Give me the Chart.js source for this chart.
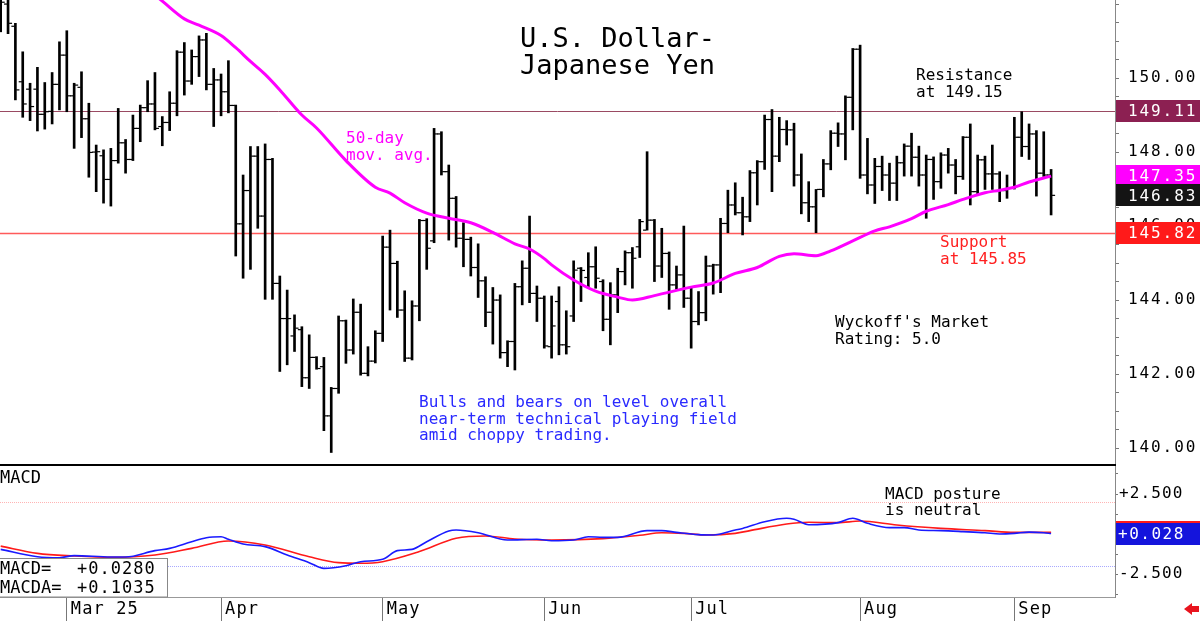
<!DOCTYPE html>
<html lang="en">
  <head>
    <meta charset="utf-8">
    <title>U.S. Dollar-Japanese Yen</title>
    <style>
      html, body { margin: 0; padding: 0; background: #fff; }
      #wrap { position: relative; width: 1200px; height: 621px; overflow: hidden; background: #fff; }
      .pane { position: absolute; left: 0; width: 1200px; }
    </style>
  </head>
  <body>
    <div id="wrap">
      <div class="pane" style="top:0;height:466px"><canvas id="price-chart"></canvas></div>
      <div class="pane" style="top:466px;height:155px"><canvas id="macd-chart"></canvas></div>
    </div>

    <script src="https://cdn.jsdelivr.net/npm/chart.js@4.4.1/dist/chart.umd.min.js"></script>
    <script>
    // daily bars, index 0 = first visible session (mid Feb 2025)
    const opens = [
      152.2, 152.0, 151.4, 149.9, 149.7, 149.7, 149.02, 149.1, 149.83, 150.62,
      149.52, 149.75, 148.9, 148.0, 147.9, 147.26, 147.77, 148.25, 147.8, 148.64,
      149.2, 149.3, 148.69, 148.8, 149.32, 150.7, 149.92, 150.58, 151.03, 149.83,
      149.95, 149.63, 149.26, 146.06, 146.96, 147.89, 146.27, 147.8, 144.45, 143.5,
      143.03, 143.2, 141.9, 142.45, 142.2, 140.87, 141.61, 143.44, 142.65, 143.67,
      142.02, 142.35, 143.1, 145.43, 144.99, 143.73, 142.43, 143.84, 146.15, 145.6,
      148.49, 147.47, 146.75, 145.67, 145.64, 144.88, 144.52, 143.67, 144.0, 142.58,
      142.88, 144.36, 144.86, 144.18, 144.05, 142.74, 143.96, 142.79, 143.57, 144.86,
      144.61, 144.9, 144.5, 143.48, 144.14, 144.77, 145.28, 145.44, 145.89, 146.16,
      144.92, 145.26, 144.41, 144.68, 144.05, 143.42, 143.66, 144.92, 144.95, 146.07,
      146.57, 146.36, 146.25, 147.44, 147.74, 148.88, 147.89, 148.61, 148.6, 147.38,
      146.63, 146.52, 146.99, 147.68, 148.51, 148.49, 149.48, 150.78, 147.38, 147.11,
      147.61, 147.38, 147.16, 147.71, 148.16, 147.86, 147.38, 147.8, 147.2, 147.92,
      147.65, 147.34, 148.4, 146.93, 147.79, 147.41, 147.41, 146.96, 147.02, 148.4,
      148.15, 148.49, 147.43, 147.38
    ];
    const highs = [
      152.4, 152.2, 151.48, 150.71, 149.86, 150.29, 149.88, 150.15, 150.98, 151.28,
      149.86, 150.17, 149.32, 148.19, 148.06, 148.1, 149.18, 148.34, 149.0, 149.27,
      149.93, 150.15, 148.96, 149.63, 150.74, 150.96, 150.76, 151.14, 151.21, 150.26,
      150.11, 150.47, 149.27, 147.38, 148.15, 148.15, 148.22, 147.83, 144.65, 144.27,
      143.6, 143.28, 143.06, 142.47, 142.45, 141.64, 143.57, 143.46, 144.03, 143.89,
      142.74, 143.17, 145.73, 145.89, 145.05, 144.25, 143.98, 146.18, 146.2, 148.64,
      148.55, 147.65, 146.8, 146.09, 145.7, 145.52, 144.63, 144.34, 144.14, 142.9,
      144.45, 145.06, 146.27, 144.38, 144.11, 144.11, 144.36, 143.71, 145.06, 144.88,
      145.28, 145.44, 144.55, 144.47, 144.86, 145.33, 145.42, 146.18, 148.01, 146.18,
      145.94, 145.3, 144.92, 146.0, 144.34, 144.23, 145.19, 144.97, 146.21, 146.97,
      147.17, 146.78, 147.5, 147.77, 149.0, 149.15, 148.94, 148.85, 148.78, 147.95,
      147.2, 146.99, 147.8, 148.58, 148.79, 149.52, 150.8, 150.89, 148.37, 147.83,
      147.89, 147.7, 147.89, 148.22, 148.51, 148.16, 147.92, 147.87, 147.98, 148.1,
      147.8, 148.42, 148.76, 147.92, 147.89, 148.19, 147.47, 147.38, 148.94, 149.09,
      148.76, 148.58, 148.55, 147.53
    ];
    const lows = [
      151.25, 151.2, 149.41, 148.94, 148.85, 148.57, 148.62, 148.76, 149.14, 149.09,
      148.1, 148.39, 147.32, 146.93, 146.62, 146.54, 147.7, 147.43, 147.77, 148.28,
      149.09, 148.6, 148.17, 148.58, 148.98, 149.54, 149.83, 150.04, 149.68, 148.69,
      148.98, 149.06, 145.19, 144.59, 144.83, 145.94, 144.02, 144.02, 142.07, 142.25,
      142.61, 141.66, 141.61, 142.13, 140.47, 139.88, 141.48, 142.29, 142.54, 141.97,
      141.95, 142.3, 142.88, 143.73, 143.53, 142.34, 142.38, 143.44, 144.83, 145.55,
      147.38, 145.62, 145.43, 144.9, 144.65, 144.07, 143.28, 142.81, 142.43, 142.2,
      142.11, 143.87, 143.93, 143.42, 142.7, 142.43, 142.52, 142.54, 143.42, 143.96,
      144.34, 144.32, 143.17, 142.79, 143.66, 144.41, 144.32, 145.15, 145.89, 144.5,
      144.61, 143.75, 144.29, 143.8, 142.7, 143.33, 143.44, 144.16, 144.2, 145.82,
      146.3, 145.76, 146.12, 146.57, 147.53, 146.93, 147.74, 148.19, 147.08, 146.33,
      146.12, 145.82, 146.79, 147.52, 148.15, 147.79, 148.6, 147.29, 146.87, 146.61,
      146.96, 146.69, 146.69, 147.35, 147.35, 147.08, 146.21, 146.72, 147.02, 147.43,
      146.87, 147.26, 146.57, 146.84, 146.99, 146.99, 146.66, 146.75, 147.0, 147.88,
      147.8, 146.81, 147.34, 146.3
    ];
    const closes = [
      152.05, 151.48, 149.68, 149.3, 149.23, 149.02, 149.09, 149.83, 150.62, 149.52,
      149.81, 148.9, 147.99, 148.01, 147.26, 147.77, 148.25, 147.8, 148.64, 149.2,
      149.3, 148.64, 148.8, 149.32, 150.7, 149.92, 150.58, 151.03, 149.83, 149.95,
      149.63, 149.26, 146.06, 146.96, 147.89, 146.27, 147.8, 144.45, 143.5, 143.5,
      143.24, 141.9, 142.45, 142.15, 140.87, 141.61, 143.44, 142.65, 143.67, 142.02,
      142.35, 143.1, 145.43, 144.99, 143.73, 142.43, 143.84, 146.15, 145.4, 148.49,
      147.47, 146.75, 145.67, 145.64, 144.88, 144.52, 143.67, 144.0, 142.58, 142.88,
      144.36, 144.86, 144.18, 144.05, 142.76, 143.3, 142.79, 142.74, 144.81, 144.8,
      144.9, 144.59, 143.48, 144.14, 144.77, 145.28, 145.13, 146.12, 146.16, 144.92,
      145.26, 144.41, 144.68, 144.05, 143.42, 143.66, 144.92, 144.95, 146.07, 146.57,
      146.36, 146.25, 147.44, 147.74, 148.88, 147.89, 148.61, 148.6, 147.38, 146.63,
      146.52, 146.99, 147.68, 148.51, 148.49, 149.48, 150.78, 147.38, 147.11, 147.61,
      147.38, 147.16, 147.71, 148.16, 147.86, 147.38, 147.8, 147.2, 147.92, 147.65,
      147.34, 148.4, 146.93, 147.79, 147.41, 147.41, 146.96, 147.02, 148.4, 148.15,
      148.49, 147.43, 147.38, 146.83
    ];

    // 50-day moving average, read at these bar indexes
    const maIdx = [20, 22, 25, 27, 30, 32, 34, 36, 38, 41, 43, 47, 51, 53, 55, 58, 61, 64, 67, 70,
      72, 74, 75, 78, 81, 84, 86, 89, 94, 97, 100, 103, 106, 108, 111, 113, 116, 119, 121, 124,
      126, 129, 131, 134, 136, 138, 140, 143];
    const maVal = [152.4, 152.08, 151.6, 151.43, 151.15, 150.82, 150.45, 150.1, 149.68, 149.0,
      148.65, 147.77, 147.05, 146.89, 146.63, 146.35, 146.21, 146.09, 145.83, 145.52,
      145.38, 145.12, 144.95, 144.54, 144.24, 144.08, 144.0, 144.12, 144.35, 144.46,
      144.72, 144.88, 145.18, 145.25, 145.2, 145.33, 145.6, 145.87, 145.98, 146.2,
      146.4, 146.58, 146.72, 146.9, 146.97, 147.05, 147.19, 147.35];

    // MACD (blue) and its average MACDA (red)
    const macdIdx = [0, 5, 8, 10, 15, 17, 21, 23, 26, 28, 30, 31, 33, 36, 39, 42, 44, 47, 49, 52,
      54, 56, 58, 61, 62, 65, 69, 73, 75, 78, 80, 82, 84, 88, 90, 92, 95, 97, 100, 101,
      104, 107, 108, 110, 114, 116, 118, 121, 123, 125, 128, 131, 134, 136, 138, 140, 142, 143];
    const macdVal = [-0.96, -1.42, -1.48, -1.35, -1.44, -1.44, -1.04, -0.9, -0.48, -0.23,
      -0.17, -0.33, -0.63, -0.79, -1.31, -1.79, -2.15, -1.98, -1.73, -1.58,
      -1.04, -0.96, -0.48, 0.19, 0.25, 0.08, -0.375, -0.33, -0.42, -0.375,
      -0.17, -0.21, -0.21, 0.21, 0.21, 0.1, -0.04, -0.06, 0.25, 0.35,
      0.77, 0.98, 0.92, 0.58, 0.71, 0.98, 0.67, 0.4, 0.4, 0.25,
      0.21, 0.15, 0.08, 0.0, 0.04, 0.12, 0.08, 0.028];
    const sigIdx = [0, 5, 10, 15, 21, 26, 31, 36, 42, 46, 49, 52, 57, 62, 66, 70, 75, 82, 87, 90,
      93, 96, 100, 102, 107, 110, 114, 117, 122, 128, 134, 138, 143];
    const sigVal = [-0.76, -1.21, -1.375, -1.46, -1.31, -0.9, -0.44, -0.69, -1.42, -1.79,
      -1.83, -1.73, -1.1, -0.27, -0.125, -0.31, -0.375, -0.29, -0.08, 0.08,
      0.04, -0.06, 0.04, 0.21, 0.625, 0.73, 0.71, 0.81, 0.56, 0.35,
      0.21, 0.1, 0.1035];

    // month separators (bar index of first session) and their labels
    const monthIdx = [9, 30, 52, 74, 94, 117, 138];
    const monthLabels = ['Mar 25', 'Apr', 'May', 'Jun', 'Jul', 'Aug', 'Sep'];

    const priceLabels = [140, 142, 144, 146, 148, 150];
    const macdLabels = [-2.5, 2.5];
    const resistance = 149.11;
    const support = 145.82;
    const macdGuides = [2, -2];

    const X_MIN = -0.095, X_MAX = 151.7;
    const MONO = '"DejaVu Sans Mono", monospace';
    Chart.defaults.font.family = MONO;
    Chart.defaults.color = '#000';

    function drawNotes(ctx, notes) {
      notes.forEach(n => {
        ctx.save();
        ctx.font = n.size + 'px ' + MONO;
        ctx.fillStyle = n.color;
        ctx.letterSpacing = (n.spacing || 0) + 'px';
        ctx.textAlign = 'left';
        ctx.textBaseline = 'alphabetic';
        n.lines.forEach((t, k) => ctx.fillText(t, n.x, n.y + k * n.lh));
        ctx.restore();
      });
    }

    function drawFlags(chart, flags, textX, spacing) {
      const {ctx, chartArea: a, scales: {y}} = chart;
      ctx.save();
      ctx.font = '16px ' + MONO;
      ctx.letterSpacing = spacing + 'px';
      ctx.textBaseline = 'middle';
      ctx.textAlign = 'left';
      flags.forEach(f => {
        const py = y.getPixelForValue(f.value);
        ctx.fillStyle = f.bg;
        ctx.fillRect(a.right + 1, Math.round(py - 11), chart.width - a.right, 22);
        ctx.fillStyle = '#fff';
        ctx.fillText(f.text, textX, py + 1);
      });
      ctx.restore();
    }

    const priceNotes = [
      {lines: ['U.S. Dollar-', 'Japanese Yen'], x: 520, y: 47, lh: 26.5, size: 27, color: '#000'},
      {lines: ['Resistance', 'at 149.15'], x: 916, y: 80, lh: 16.7, size: 16, color: '#000'},
      {lines: ['50-day', 'mov. avg.'], x: 346, y: 143, lh: 16.7, size: 16, color: '#ff00ff'},
      {lines: ['Support', 'at 145.85'], x: 940, y: 247, lh: 16.5, size: 16, color: '#ff2020'},
      {lines: ["Wyckoff's Market", 'Rating: 5.0'], x: 835, y: 327, lh: 16.7, size: 16, color: '#000'},
      {lines: ['Bulls and bears on level overall', 'near-term technical playing field', 'amid choppy trading.'],
       x: 419, y: 407, lh: 16.5, size: 16, color: '#2a2aff'}
    ];

    const priceDecor = {
      id: 'priceDecor',
      beforeDraw(chart) { chart.ctx.letterSpacing = '1.9px'; },
      beforeDatasetsDraw(chart) {
        const {ctx, chartArea: a, scales: {y}} = chart;
        ctx.save();
        [[resistance, '#9a4a62', 1], [support, '#ff5a5a', 1.5]].forEach(([v, c, w]) => {
          const py = Math.round(y.getPixelForValue(v)) + 0.5;
          ctx.strokeStyle = c;
          ctx.lineWidth = w;
          ctx.beginPath();
          ctx.moveTo(a.left, py);
          ctx.lineTo(a.right, py);
          ctx.stroke();
        });
        ctx.restore();
      },
      afterDraw(chart) {
        const {ctx, chartArea: a} = chart;
        ctx.letterSpacing = '0px';
        ctx.save();
        ctx.fillStyle = '#000';
        ctx.fillRect(0, a.bottom - 2, a.right + 1, 2);
        ctx.restore();
        drawNotes(ctx, priceNotes);
        drawFlags(chart, [
          {value: resistance, bg: '#8c2052', text: resistance.toFixed(2)},
          {value: maVal[maVal.length - 1], bg: '#ff00ff', text: maVal[maVal.length - 1].toFixed(2)},
          {value: closes[closes.length - 1], bg: '#141414', text: closes[closes.length - 1].toFixed(2)},
          {value: support, bg: '#ff1a1a', text: support.toFixed(2)}
        ], a.right + 13, 1.9);
      }
    };

    new Chart(document.getElementById('price-chart'), {
      type: 'bar',
      data: {
        datasets: [
          {
            type: 'line', label: '50-day', order: 0,
            data: maIdx.map((x, k) => ({x, y: maVal[k]})),
            borderColor: '#ff00ff', borderWidth: 3, pointRadius: 0,
            cubicInterpolationMode: 'monotone'
          },
          {
            type: 'bar', label: 'range', order: 1,
            data: highs.map((h, i) => ({x: i, y: [lows[i], h]})),
            backgroundColor: '#000', borderWidth: 0, barThickness: 2
          },
          {
            type: 'line', label: 'open', order: 2, showLine: false,
            data: opens.map((v, i) => ({x: i - 0.33, y: v})),
            pointStyle: 'line', pointRadius: 1.6, pointBorderWidth: 1.2,
            pointBorderColor: '#000', pointBackgroundColor: '#000'
          },
          {
            type: 'line', label: 'close', order: 2, showLine: false,
            data: closes.map((v, i) => ({x: i + 0.33, y: v})),
            pointStyle: 'line', pointRadius: 1.6, pointBorderWidth: 1.2,
            pointBorderColor: '#000', pointBackgroundColor: '#000'
          }
        ]
      },
      options: {
        responsive: true,
        maintainAspectRatio: false,
        animation: false,
        events: [],
        layout: { padding: 0, autoPadding: false },
        plugins: { legend: { display: false }, tooltip: { enabled: false } },
        scales: {
          x: { type: 'linear', display: false, min: X_MIN, max: X_MAX, offset: false },
          y: {
            type: 'linear', position: 'right', min: 139.515, max: 152.11,
            afterFit(s) { s.width = 85; s.paddingTop = 0; s.paddingBottom = 0; },
            afterBuildTicks(s) {
              const t = [];
              for (let v = 140; v <= 152; v += 0.5) t.push({value: v});
              s.ticks = t;
            },
            grid: { drawOnChartArea: false, drawTicks: true, tickLength: 4, color: '#777' },
            border: { display: true, color: '#888', width: 1 },
            ticks: {
              autoSkip: false, padding: 9, color: '#000', font: { size: 16 },
              callback: v => priceLabels.includes(v) ? v.toFixed(2) : ''
            }
          }
        }
      },
      plugins: [priceDecor]
    });

    const macdNotes = [
      {lines: ['MACD'], x: 0, y: 17, lh: 17, size: 17, color: '#000'},
      {lines: ['MACD posture', 'is neutral'], x: 885, y: 33, lh: 16.3, size: 16, color: '#000'}
    ];

    const macdDecor = {
      id: 'macdDecor',
      beforeDraw(chart) { chart.ctx.letterSpacing = '1.1px'; },
      beforeDatasetsDraw(chart) {
        const {ctx, chartArea: a, scales: {y}} = chart;
        ctx.save();
        ctx.lineWidth = 1;
        ctx.setLineDash([1, 1]);
        macdGuides.forEach(v => {
          const py = Math.round(y.getPixelForValue(v)) + 0.5;
          ctx.strokeStyle = v > 0 ? '#ffb4b4' : '#a8a8ff';
          ctx.beginPath();
          ctx.moveTo(a.left, py);
          ctx.lineTo(a.right, py);
          ctx.stroke();
        });
        ctx.restore();
      },
      afterDraw(chart) {
        const {ctx, chartArea: a} = chart;
        ctx.letterSpacing = '0px';
        drawNotes(ctx, macdNotes);

        // readout box
        const m = macdVal[macdVal.length - 1], s = sigVal[sigVal.length - 1];
        const sign = v => (v >= 0 ? '+' : '-') + Math.abs(v).toFixed(4);
        ctx.save();
        ctx.fillStyle = '#fff';
        ctx.fillRect(-1, 92, 169, a.bottom - 92);
        ctx.strokeStyle = '#888';
        ctx.lineWidth = 1;
        ctx.strokeRect(-1, 92.5, 168.5, a.bottom - 92.5);
        ctx.restore();
        drawNotes(ctx, [
          {lines: ['MACD=', 'MACDA='], x: 0, y: 108, lh: 19.3, size: 17, color: '#000'},
          {lines: [sign(m), sign(s)], x: 77, y: 108, lh: 19.3, size: 17, spacing: 1, color: '#000'}
        ]);

        const fmt = v => (v >= 0 ? '+' : '-') + Math.abs(v).toFixed(3);
        drawFlags(chart, [
          {value: s, bg: '#ff1a1a', text: fmt(s)},
          {value: m, bg: '#1414dc', text: fmt(m)}
        ], a.right + 3, 1.5);

        // small red arrow, bottom right
        ctx.save();
        ctx.fillStyle = '#e8141e';
        ctx.beginPath();
        ctx.moveTo(1184, 143);
        ctx.lineTo(1192, 137);
        ctx.lineTo(1192, 140);
        ctx.lineTo(1199, 140);
        ctx.lineTo(1199, 146);
        ctx.lineTo(1192, 146);
        ctx.lineTo(1192, 149);
        ctx.closePath();
        ctx.fill();
        ctx.restore();
      }
    };

    new Chart(document.getElementById('macd-chart'), {
      type: 'line',
      data: {
        datasets: [
          {
            label: 'MACD', order: 0,
            data: macdIdx.map((x, k) => ({x, y: macdVal[k]})),
            borderColor: '#1a1aff', borderWidth: 1.6, pointRadius: 0,
            cubicInterpolationMode: 'monotone'
          },
          {
            label: 'MACDA', order: 1,
            data: sigIdx.map((x, k) => ({x, y: sigVal[k]})),
            borderColor: '#ff1a1a', borderWidth: 1.6, pointRadius: 0,
            cubicInterpolationMode: 'monotone'
          }
        ]
      },
      options: {
        responsive: true,
        maintainAspectRatio: false,
        animation: false,
        events: [],
        layout: { padding: 0, autoPadding: false },
        plugins: { legend: { display: false }, tooltip: { enabled: false } },
        scales: {
          x: {
            type: 'linear', min: X_MIN, max: X_MAX, offset: false,
            afterFit(s) { s.height = 24; s.paddingLeft = 0; s.paddingRight = 0; },
            afterBuildTicks(s) { s.ticks = monthIdx.map(v => ({value: v})); },
            grid: { drawOnChartArea: false, drawTicks: true, tickLength: 24, color: '#777' },
            border: { display: true, color: '#999', width: 1 },
            ticks: {
              autoSkip: false, maxRotation: 0, align: 'start', labelOffset: 4, padding: -22,
              color: '#000', font: { size: 17 },
              callback: (v, i) => monthLabels[i]
            }
          },
          y: {
            type: 'linear', position: 'right', min: -3.9375, max: 4.25,
            afterFit(s) { s.width = 85; s.paddingTop = 0; s.paddingBottom = 0; },
            afterBuildTicks(s) {
              const t = [];
              for (let v = -3.75; v <= 4; v += 1.25) t.push({value: v});
              s.ticks = t;
            },
            grid: { drawOnChartArea: false, drawTicks: true, tickLength: 3, color: '#777' },
            border: { display: true, color: '#888', width: 1 },
            ticks: {
              autoSkip: false, padding: 1, color: '#000', font: { size: 16 },
              callback: v => macdLabels.includes(v) ? (v > 0 ? '+' : '-') + Math.abs(v).toFixed(3) : ''
            }
          }
        }
      },
      plugins: [macdDecor]
    });
    </script>
  </body>
</html>
